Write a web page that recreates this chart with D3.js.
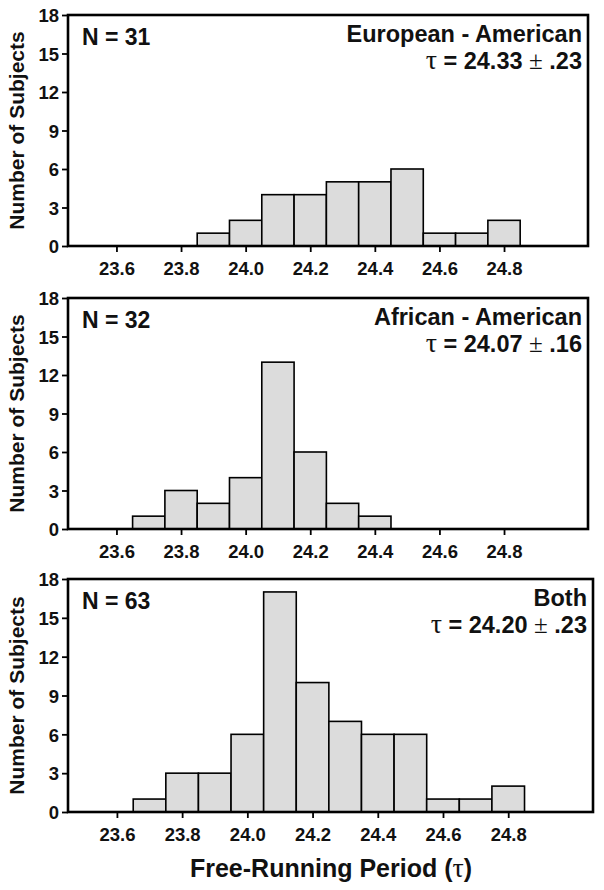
<!DOCTYPE html>
<html>
<head>
<meta charset="utf-8">
<script src="https://cdn.jsdelivr.net/npm/d3@7"></script>
<style>
  html, body { margin: 0; padding: 0; background: #fff; }
  svg { display: block; }
  text { font-family: "Liberation Sans", Arial, sans-serif; font-weight: bold; fill: #111; }
  .sym { font-family: "Liberation Serif", "DejaVu Serif", serif; font-weight: normal; }
</style>
</head>
<body>
<script>
// ---- data ----
const binCenters = [23.7, 23.8, 23.9, 24.0, 24.1, 24.2, 24.3, 24.4, 24.5, 24.6, 24.7, 24.8];
const countsEuropean = [0, 0, 1, 2, 4, 4, 5, 5, 6, 1, 1, 2];
const countsAfrican  = [1, 3, 2, 4, 13, 6, 2, 1, 0, 0, 0, 0];
const countsBoth     = [1, 3, 3, 6, 17, 10, 7, 6, 6, 1, 1, 2];
const panelNames = ["European - American", "African - American", "Both"];
const panelN = [31, 32, 63];
const panelMean = ["24.33", "24.07", "24.20"];
const panelSD = [".23", ".16", ".23"];
const xTicks = [23.6, 23.8, 24.0, 24.2, 24.4, 24.6, 24.8];
const yTicks = [0, 3, 6, 9, 12, 15, 18];
const binWidth = 0.1;

const W = 604, H = 890;
const svg = d3.select("body").append("svg").attr("width", W).attr("height", H);

const layouts = [
  {x0: 68, x1: 588, y0: 15, y1: 246},
  {x0: 68, x1: 588, y0: 298, y1: 529},
  {x0: 68, x1: 593, y0: 579, y1: 812}
];
const series = [countsEuropean, countsAfrican, countsBoth];

series.forEach((counts, i) => {
  const L = layouts[i];
  const x = d3.scaleLinear().domain([23.45, 25.06]).range([L.x0, L.x1]);
  const y = d3.scaleLinear().domain([0, 18]).range([L.y1, L.y0]);
  const g = svg.append("g");

  // bars
  const data = binCenters.map((c, k) => ({c, n: counts[k]})).filter(d => d.n > 0);
  g.selectAll("rect.bar").data(data).join("rect")
    .attr("class", "bar")
    .attr("x", d => x(d.c - binWidth / 2))
    .attr("width", d => x(d.c + binWidth / 2) - x(d.c - binWidth / 2))
    .attr("y", d => y(d.n))
    .attr("height", d => y(0) - y(d.n))
    .attr("fill", "#dcdcdc")
    .attr("stroke", "#000")
    .attr("stroke-width", 1.6);

  // axes
  const xa = g.append("g").attr("transform", `translate(0,${L.y1})`)
    .call(d3.axisBottom(x).tickValues(xTicks).tickFormat(d3.format(".1f")).tickSize(6).tickPadding(5));
  const ya = g.append("g").attr("transform", `translate(${L.x0},0)`)
    .call(d3.axisLeft(y).tickValues(yTicks).tickSize(6).tickPadding(3));
  [xa, ya].forEach(a => {
    a.select(".domain").remove();
    a.selectAll(".tick line").attr("stroke", "#000").attr("stroke-width", 1.8);
    a.selectAll(".tick text").style("font-size", "18.5px").attr("fill", "#111");
  });
  xa.selectAll(".tick text").attr("dy", "0.95em");
  ya.selectAll(".tick text").attr("dy", "0.36em");

  // frame
  g.append("rect")
    .attr("x", L.x0).attr("y", L.y0)
    .attr("width", L.x1 - L.x0).attr("height", L.y1 - L.y0)
    .attr("fill", "none").attr("stroke", "#000").attr("stroke-width", 2.6);

  // y label
  g.append("text")
    .attr("transform", `translate(24,${(L.y0 + L.y1) / 2}) rotate(-90)`)
    .attr("text-anchor", "middle")
    .style("font-size", "21px")
    .text("Number of Subjects");

  // annotations
  g.append("text")
    .attr("x", L.x0 + 14).attr("y", L.y0 + 30)
    .style("font-size", "23px")
    .text("N = " + panelN[i]);

  g.append("text")
    .attr("x", L.x1 - 6).attr("y", L.y0 + 27)
    .attr("text-anchor", "end")
    .style("font-size", "23.5px")
    .text(panelNames[i]);

  const t = g.append("text")
    .attr("x", L.x1 - 6).attr("y", L.y0 + 54)
    .attr("text-anchor", "end")
    .style("font-size", "23.5px");
  t.append("tspan").attr("class", "sym").style("font-size", "28px").text("\u03C4");
  t.append("tspan").text(" = " + panelMean[i] + " ");
  t.append("tspan").attr("class", "sym").style("font-size", "25px").text("\u00B1");
  t.append("tspan").text(" " + panelSD[i]);
});

// x-axis title
const xt = svg.append("text")
  .attr("x", 331).attr("y", 877)
  .attr("text-anchor", "middle")
  .style("font-size", "25px");
xt.append("tspan").text("Free-Running Period (");
xt.append("tspan").attr("class", "sym").style("font-size", "28px").text("\u03C4");
xt.append("tspan").text(")");
</script>
</body>
</html>
